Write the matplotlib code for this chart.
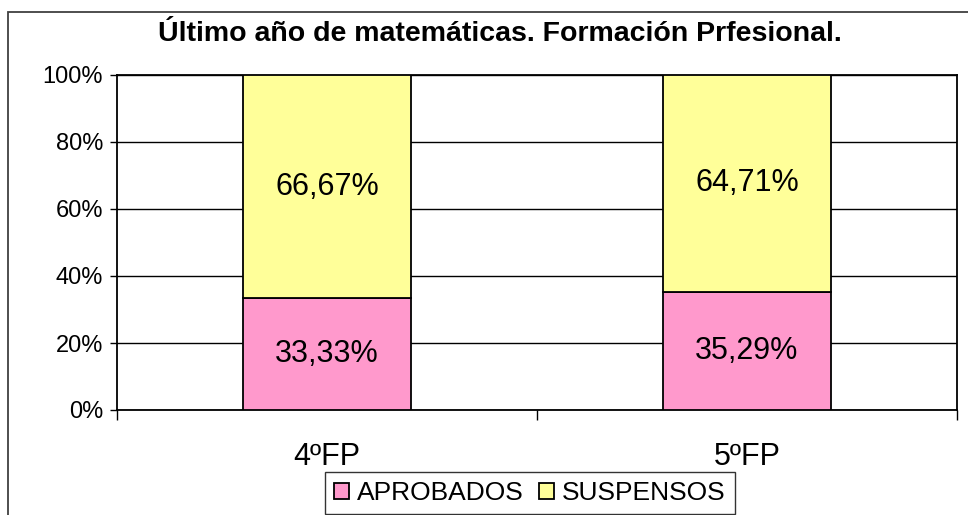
import numpy as np
import matplotlib
matplotlib.use('Agg')
import matplotlib.pyplot as plt
from matplotlib.patches import Rectangle

categories = ['4ºFP', '5ºFP']
aprobados = [33.33, 35.29]
suspensos = [66.67, 64.71]
yticks = [0, 20, 40, 60, 80, 100]

plt.rcParams['font.family'] = ['Liberation Sans', 'DejaVu Sans']

W, H = 968, 515
fig = plt.figure(figsize=(W / 100, H / 100), dpi=100)

# outer chart border (runs off right and bottom edge)
fig.patches.append(Rectangle((8 / W, -0.1), 1.2, 1.1 - 12 / H, transform=fig.transFigure,
                             fill=False, edgecolor='#404040', linewidth=1.3, zorder=0))

ax = fig.add_axes([117 / W, 1 - 410 / H, 840 / W, 335 / H])

x = np.arange(len(categories)) + 0.5
b1 = ax.bar(x, aprobados, width=0.4, color='#FF99CC', edgecolor='black', linewidth=1.3,
            label='APROBADOS', zorder=3)
b2 = ax.bar(x, suspensos, width=0.4, bottom=aprobados, color='#FFFF99', edgecolor='black',
            linewidth=1.3, label='SUSPENSOS', zorder=3)

for xi, a, s in zip(x, aprobados, suspensos):
    ax.text(xi, a / 2, ('%.2f%%' % a).replace('.', ','), ha='center', va='center',
            fontsize=22, zorder=4)
    ax.text(xi, a + s / 2, ('%.2f%%' % s).replace('.', ','), ha='center', va='center',
            fontsize=22, zorder=4)

ax.set_xlim(0, 2)
ax.set_ylim(0, 100)
ax.set_yticks(yticks)
ax.set_yticklabels(['%d%%' % v for v in yticks], fontsize=17)
ax.tick_params(axis='y', length=5, width=1, direction='out', pad=5)
ax.set_xticks([0, 1, 2])
ax.set_xticklabels([])
ax.tick_params(axis='x', which='major', length=7, width=1, direction='out')
ax.set_xticks(x, minor=True)
ax.set_xticklabels(categories, minor=True, fontsize=22)
ax.tick_params(axis='x', which='minor', length=0, pad=23)

ax.grid(axis='y', color='black', linewidth=1, zorder=0)
for sp in ax.spines.values():
    sp.set_color('black')
    sp.set_linewidth(1.3)

fig.text(500 / W, 1 - 34 / H, 'Último año de matemáticas. Formación Prfesional.',
         ha='center', va='center', fontsize=20.5, fontweight='bold')

leg = fig.legend(loc='upper left', bbox_to_anchor=(325 / W, 1 - 472 / H), ncol=2,
                 fontsize=19, frameon=True, fancybox=False, edgecolor='black',
                 handlelength=0.55, handleheight=0.55, handletextpad=0.3,
                 columnspacing=0.6, borderaxespad=0, borderpad=0.35)
leg.get_frame().set_linewidth(1)

fig.savefig('out.png', dpi=100)
